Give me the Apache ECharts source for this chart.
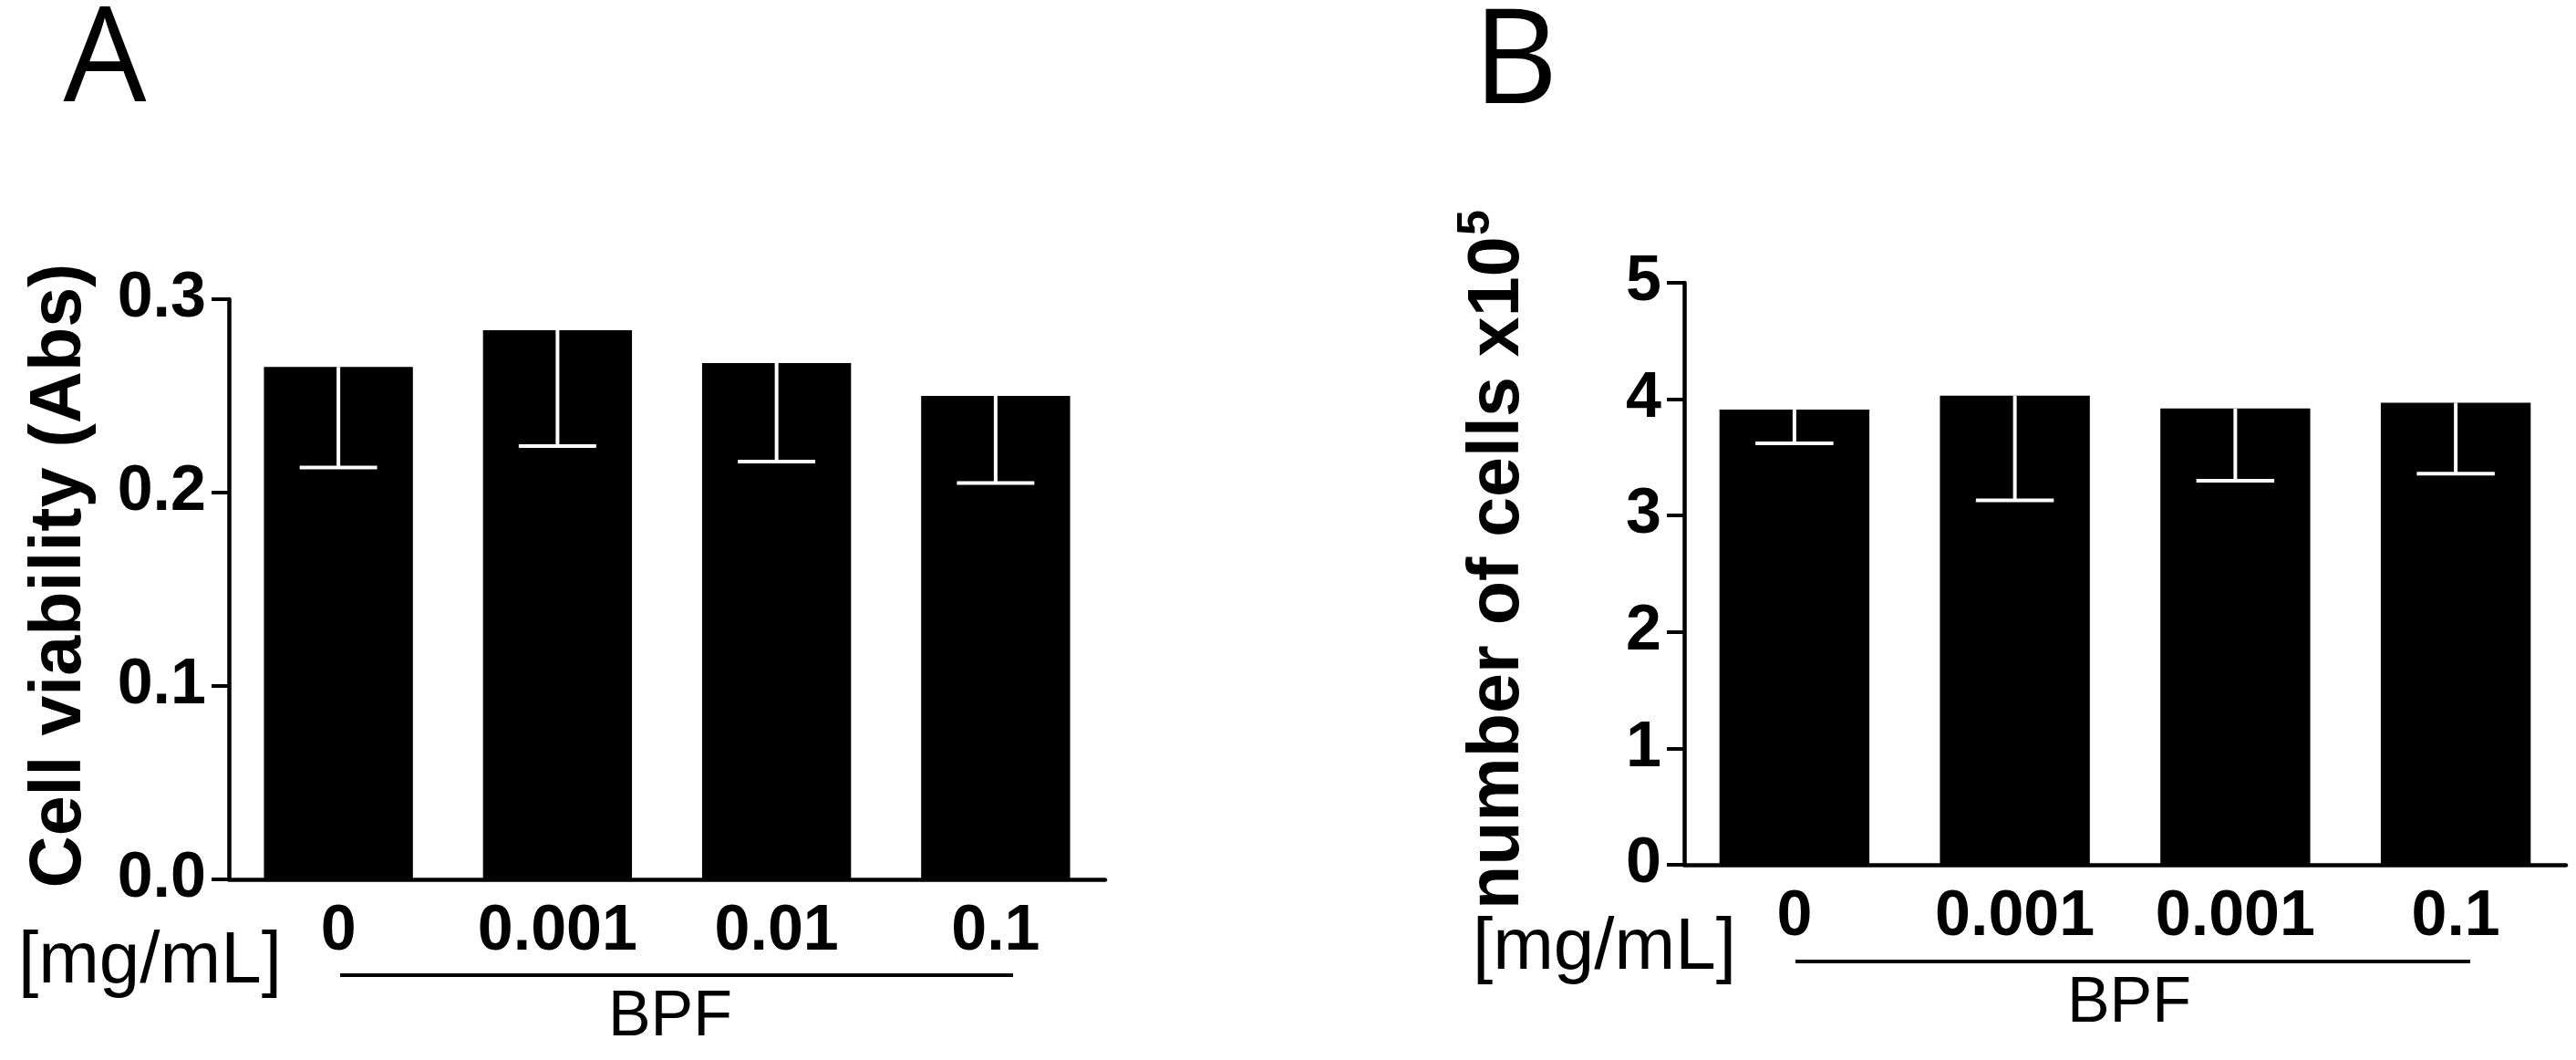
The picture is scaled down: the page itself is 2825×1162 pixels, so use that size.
<!DOCTYPE html>
<html>
<head>
<meta charset="utf-8">
<script src="https://cdn.jsdelivr.net/npm/echarts@6/dist/echarts.min.js"></script>
<style>
  html, body { margin: 0; padding: 0; background: #fff; }
  #chart { width: 2825px; height: 1162px; }
</style>
</head>
<body>
<div id="chart"></div>
<script>
// panel A: cell viability
const categoriesA = ["0", "0.001", "0.01", "0.1"];
const viabilityMean = [0.265, 0.284, 0.267, 0.250];
const viabilityLow = [0.213, 0.224, 0.216, 0.205];

// panel B: number of cells (x10^5)
const categoriesB = ["0", "0.001", "0.001", "0.1"];
const cellsMean = [3.91, 4.03, 3.92, 3.97];
const cellsLow = [3.62, 3.13, 3.30, 3.36];

const BOLD = "Liberation Sans, Arial, sans-serif";
const BAR_GAP = "32%";
const DIGIT_SIZE = 70;

function errorRows(means, lows) {
  return means.map((m, i) => [i, m, lows[i]]);
}

// white lower error bar drawn inside the black bar
function renderError(params, api) {
  const idx = api.value(0);
  const top = api.coord([idx, api.value(1)]);
  const low = api.coord([idx, api.value(2)]);
  const half = api.size([1, 0])[0] * 0.68 * 0.26;
  const style = { stroke: "#fff", lineWidth: 4 };
  return {
    type: "group",
    children: [
      { type: "line", shape: { x1: top[0], y1: top[1], x2: low[0], y2: low[1] }, style },
      { type: "line", shape: { x1: low[0] - half, y1: low[1], x2: low[0] + half, y2: low[1] }, style },
    ],
  };
}

function categoryAxis(gridIndex, data) {
  return {
    type: "category",
    gridIndex,
    data,
    axisLine: { lineStyle: { color: "#000", width: 4.5 } },
    axisTick: { alignWithLabel: true, length: 18, lineStyle: { color: "#000", width: 4 } },
    axisLabel: { color: "#000", fontFamily: BOLD, fontWeight: "bold", fontSize: DIGIT_SIZE, margin: 23 },
  };
}

function valueAxis(gridIndex, max, interval, digits) {
  return {
    type: "value",
    gridIndex,
    min: 0,
    max,
    interval,
    splitLine: { show: false },
    axisLine: { show: true, lineStyle: { color: "#000", width: 4.5 } },
    axisTick: { show: true, length: 19, lineStyle: { color: "#000", width: 4 } },
    axisLabel: {
      color: "#000",
      fontFamily: BOLD,
      fontWeight: "bold",
      fontSize: DIGIT_SIZE,
      margin: 25,
      formatter: (v) => v.toFixed(digits),
    },
  };
}

function label(text, x, y, opts) {
  return {
    type: "text",
    x,
    y,
    style: Object.assign(
      { text, fill: "#000", fontFamily: BOLD, fontSize: 80, textAlign: "left", textVerticalAlign: "middle" },
      opts || {}
    ),
  };
}

function hline(x1, x2, y) {
  return { type: "line", shape: { x1, y1: y, x2, y2: y }, style: { stroke: "#000", lineWidth: 4 } };
}

const chart = echarts.init(document.getElementById("chart"), null, { renderer: "canvas" });

chart.setOption({
  backgroundColor: "#fff",
  animation: false,
  grid: [
    { left: 251, right: 1613, top: 328, bottom: 198 },
    { left: 1847, right: 11, top: 310, bottom: 214 },
  ],
  xAxis: [categoryAxis(0, categoriesA), categoryAxis(1, categoriesB)],
  yAxis: [valueAxis(0, 0.3, 0.1, 1), valueAxis(1, 5, 1, 0)],
  series: [
    {
      type: "bar",
      xAxisIndex: 0,
      yAxisIndex: 0,
      data: viabilityMean,
      barCategoryGap: BAR_GAP,
      itemStyle: { color: "#000" },
    },
    {
      type: "custom",
      xAxisIndex: 0,
      yAxisIndex: 0,
      data: errorRows(viabilityMean, viabilityLow),
      encode: { x: 0, y: [1, 2] },
      renderItem: renderError,
      z: 5,
    },
    {
      type: "bar",
      xAxisIndex: 1,
      yAxisIndex: 1,
      data: cellsMean,
      barCategoryGap: BAR_GAP,
      itemStyle: { color: "#000" },
    },
    {
      type: "custom",
      xAxisIndex: 1,
      yAxisIndex: 1,
      data: errorRows(cellsMean, cellsLow),
      encode: { x: 0, y: [1, 2] },
      renderItem: renderError,
      z: 5,
    },
  ],
  graphic: [
    // panel letters
    label("A", 115, 70, { fontFamily: "Open Sans", fontSize: 144, textAlign: "center" }),
    label("B", 1662, 72, { fontFamily: "Open Sans", fontSize: 144, textAlign: "center" }),
    // y axis titles
    Object.assign(label("Cell viability (Abs)", 66, 631, { fontWeight: "bold", fontSize: 79, textAlign: "center" }), {
      rotation: Math.PI / 2,
    }),
    Object.assign(label("number of cells x10", 1643, 997, { fontWeight: "bold", fontSize: 79 }), {
      rotation: Math.PI / 2,
    }),
    Object.assign(label("5", 1619, 244, { fontWeight: "bold", fontSize: 50, textAlign: "center" }), {
      rotation: Math.PI / 2,
    }),
    // concentration unit and BPF group
    label("[mg/mL]", 20, 1055),
    label("[mg/mL]", 1615, 1040),
    hline(373, 1111, 1069),
    hline(1969, 2709, 1054),
    label("BPF", 735, 1116, { fontSize: 70, textAlign: "center" }),
    label("BPF", 2335, 1101, { fontSize: 70, textAlign: "center" }),
  ],
});
</script>
</body>
</html>
